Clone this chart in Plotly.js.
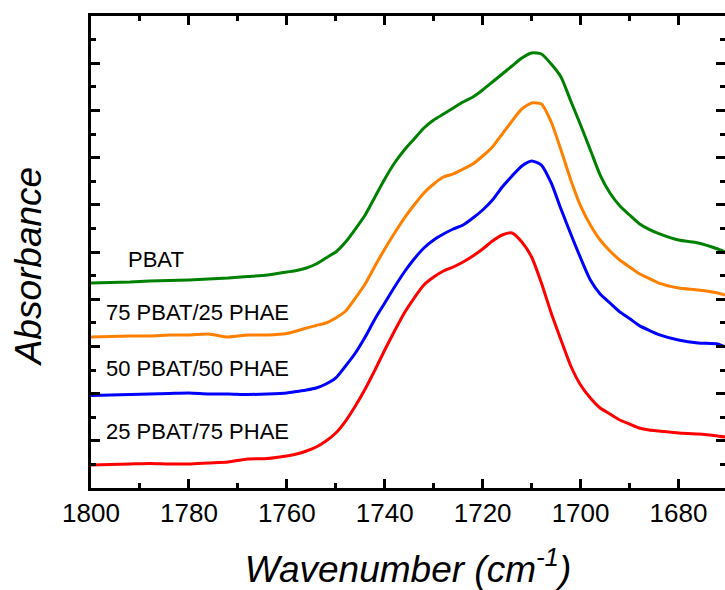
<!DOCTYPE html>
<html>
<head>
<meta charset="utf-8">
<script src="https://cdn.plot.ly/plotly-3.0.1.min.js"></script>
<style>html,body{margin:0;padding:0;background:#fff;}#chart{width:725px;height:590px;}</style>
</head>
<body>
<div id="chart"></div>
<script>
const wavenumber = [1800,1796,1792,1788,1784,1780,1776,1772,1768,1764,1760,1758,1756,1754,1752,1750,1748,1746,1744,1742,1740,1738,1736,1734,1732,1730,1728,1726,1724,1722,1720,1718,1716,1714,1712,1710,1708,1706,1704,1702,1700,1698,1696,1694,1692,1690,1688,1686,1684,1680,1676,1672,1670.5];

const pbat = [4.343,4.354,4.364,4.386,4.396,4.407,4.428,4.449,4.481,4.513,4.576,4.608,4.661,4.746,4.873,5.000,5.212,5.487,5.784,6.165,6.547,6.886,7.161,7.394,7.627,7.797,7.924,8.051,8.178,8.284,8.432,8.602,8.771,8.941,9.110,9.216,9.195,8.983,8.708,8.199,7.691,7.161,6.631,6.250,5.980,5.784,5.600,5.480,5.390,5.254,5.191,5.064,5.000];

const pbat75 = [3.199,3.210,3.220,3.220,3.242,3.242,3.263,3.199,3.242,3.242,3.273,3.326,3.390,3.443,3.496,3.602,3.750,4.025,4.322,4.703,5.064,5.403,5.720,5.996,6.250,6.441,6.589,6.653,6.758,6.864,7.034,7.225,7.500,7.775,8.030,8.157,8.136,7.754,7.161,6.525,5.975,5.572,5.254,5.021,4.831,4.682,4.540,4.440,4.340,4.237,4.195,4.131,4.089];

const pbat50 = [1.960,1.970,1.981,1.992,2.002,2.013,1.992,1.992,1.981,1.992,2.013,2.044,2.076,2.119,2.203,2.331,2.585,2.860,3.199,3.581,3.919,4.258,4.576,4.852,5.085,5.254,5.381,5.487,5.572,5.720,5.890,6.102,6.377,6.610,6.822,6.928,6.843,6.462,5.911,5.381,4.873,4.407,4.110,3.919,3.730,3.590,3.440,3.340,3.250,3.136,3.072,3.051,2.987];

const pbat25 = [0.487,0.498,0.508,0.519,0.508,0.508,0.530,0.551,0.614,0.625,0.678,0.720,0.784,0.869,0.996,1.165,1.419,1.737,2.097,2.500,2.924,3.326,3.708,4.025,4.301,4.470,4.597,4.682,4.788,4.915,5.064,5.233,5.360,5.403,5.212,4.894,4.343,3.708,3.136,2.585,2.182,1.907,1.695,1.568,1.441,1.356,1.271,1.229,1.208,1.165,1.144,1.102,1.081];

const seriesNames = ["PBAT","75 PBAT/25 PHAE","50 PBAT/50 PHAE","25 PBAT/75 PHAE"];
const seriesColors = ["#008000","#FF8000","#0000FF","#FF0000"];
const seriesValues = [pbat, pbat75, pbat50, pbat25];

const labelX = [1792.9, 1797.4, 1797.4, 1797.4];
const labelY = [4.85, 3.71, 2.54, 1.19];

const xTickVals = [1800,1780,1760,1740,1720,1700,1680];

const traces = seriesValues.map((vals, i) => ({
  x: wavenumber, y: vals, type: 'scatter', mode: 'lines', name: seriesNames[i],
  line: {color: seriesColors[i], width: 3, shape: 'spline', smoothing: 0.6}, showlegend: false
}));

const font = "Liberation Sans, Arial, sans-serif";

const annotations = seriesNames.map((n, i) => ({
  x: labelX[i], y: labelY[i], xref: 'x', yref: 'y', text: n, showarrow: false,
  xanchor: 'left', yanchor: 'middle', font: {family: font, size: 22, color: '#000'}
}));
annotations.push({
  xref: 'paper', yref: 'paper', x: -0.099, y: 0.468, xanchor: 'center', yanchor: 'middle',
  text: '<i>Absorbance</i>', textangle: -90, showarrow: false,
  font: {family: font, size: 37, color: '#000'}
});

const layout = {
  width: 725, height: 590,
  margin: {l: 91, r: 0, t: 16, b: 102},
  paper_bgcolor: '#fff', plot_bgcolor: '#fff',
  xaxis: {
    range: [1800, 1670.5], showgrid: false, zeroline: false,
    showline: true, linewidth: 3, linecolor: '#000', mirror: 'ticks',
    ticks: 'inside', ticklen: 9, tickwidth: 3, tickcolor: '#000',
    tickvals: xTickVals, ticktext: xTickVals.map(String),
    tickfont: {family: font, size: 26, color: '#000'},
    minor: {ticks: 'inside', ticklen: 5, tickwidth: 3, tickcolor: '#000', dtick: 10, tick0: 1800, showgrid: false},
    title: {text: '<i>Wavenumber (cm<sup>-1</sup>)</i>', font: {family: font, size: 37, color: '#000'}, standoff: 30}
  },
  yaxis: {
    range: [0, 10], showgrid: false, zeroline: false,
    showline: true, linewidth: 3, linecolor: '#000', mirror: 'ticks',
    ticks: 'inside', ticklen: 9, tickwidth: 3, tickcolor: '#000',
    dtick: 1, tick0: 0, showticklabels: false,
    minor: {ticks: 'inside', ticklen: 5, tickwidth: 3, tickcolor: '#000', dtick: 0.5, showgrid: false}
  },
  annotations: annotations
};

Plotly.newPlot('chart', traces, layout, {displayModeBar: false, staticPlot: true});
</script>
</body>
</html>
